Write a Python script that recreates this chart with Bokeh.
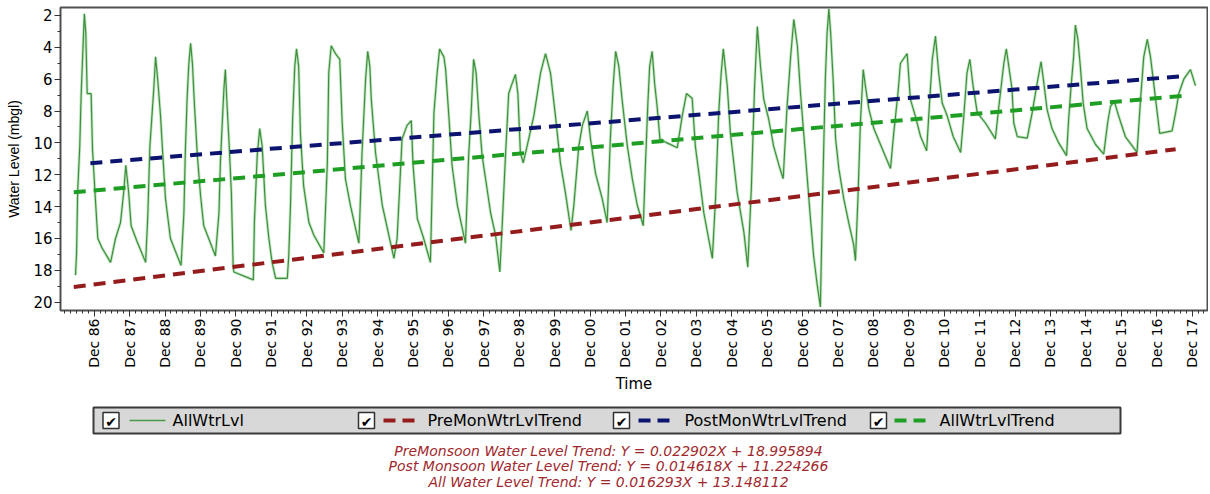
import math
from bokeh.plotting import figure
from bokeh.models import Range1d, FixedTicker, CustomJSTickFormatter
from bokeh.layouts import column
from bokeh.embed import file_html
from bokeh.resources import INLINE
from bokeh.core.properties import value

# ---------------- data ----------------
dates = [
    1986.39, 1986.42, 1986.45, 1986.51, 1986.55, 1986.61, 1986.64, 1986.68, 1986.72, 1986.83,
    1986.87, 1986.95, 1987.02, 1987.14, 1987.38, 1987.52, 1987.66, 1987.75, 1987.81, 1987.89,
    1987.96, 1988.13, 1988.37, 1988.43, 1988.49, 1988.56, 1988.60, 1988.65, 1988.71, 1988.79,
    1988.84, 1988.93, 1989.07, 1989.37, 1989.45, 1989.49, 1989.54, 1989.59, 1989.64, 1989.69,
    1989.75, 1989.83, 1989.92, 1990.01, 1990.15, 1990.34, 1990.44, 1990.48, 1990.53, 1990.58,
    1990.62, 1990.67, 1990.72, 1990.79, 1990.84, 1990.86, 1991.41, 1991.44, 1991.52, 1991.59,
    1991.66, 1991.75, 1991.85, 1991.94, 1992.04, 1992.37, 1992.41, 1992.46, 1992.52, 1992.58,
    1992.63, 1992.69, 1992.74, 1992.83, 1992.98, 1993.12, 1993.40, 1993.50, 1993.54, 1993.61,
    1993.73, 1993.85, 1993.92, 1994.01, 1994.15, 1994.39, 1994.48, 1994.58, 1994.64, 1994.70,
    1994.74, 1994.86, 1995.05, 1995.38, 1995.47, 1995.61, 1995.75, 1995.87, 1995.92, 1996.04,
    1996.22, 1996.41, 1996.51, 1996.60, 1996.67, 1996.79, 1996.84, 1996.93, 1997.02, 1997.17,
    1997.40, 1997.49, 1997.56, 1997.63, 1997.70, 1997.78, 1997.87, 1998.11, 1998.25, 1998.37,
    1998.44, 1998.53, 1998.62, 1998.72, 1998.81, 1998.88, 1998.95, 1999.03, 1999.14, 1999.33,
    1999.52, 1999.66, 1999.80, 1999.94, 2000.08, 2000.22, 2000.38, 2000.46, 2000.60, 2000.70,
    2000.84, 2000.93, 2001.07, 2001.26, 2001.40, 2001.49, 2001.57, 2001.64, 2001.73, 2001.82,
    2001.97, 2002.11, 2002.25, 2002.42, 2002.48, 2002.55, 2002.60, 2002.67, 2002.74, 2002.81,
    2002.89, 2003.09, 2003.38, 2003.52, 2003.64, 2003.80, 2003.89, 2003.99, 2004.13, 2004.37,
    2004.46, 2004.55, 2004.62, 2004.68, 2004.79, 2004.88, 2005.07, 2005.26, 2005.37, 2005.47,
    2005.56, 2005.64, 2005.73, 2005.82, 2005.96, 2006.10, 2006.25, 2006.37, 2006.48, 2006.58,
    2006.67, 2006.77, 2006.86, 2007.00, 2007.14, 2007.23, 2007.33, 2007.42, 2007.47, 2007.52,
    2007.56, 2007.61, 2007.66, 2007.71, 2007.78, 2007.85, 2007.94, 2008.08, 2008.22, 2008.36,
    2008.41, 2008.48, 2008.55, 2008.63, 2008.69, 2008.79, 2008.93, 2009.21, 2009.40, 2009.49,
    2009.61, 2009.68, 2009.87, 2009.96, 2010.10, 2010.25, 2010.42, 2010.48, 2010.58, 2010.67,
    2010.76, 2010.86, 2011.00, 2011.17, 2011.38, 2011.47, 2011.56, 2011.64, 2011.73, 2011.85,
    2012.08, 2012.36, 2012.46, 2012.60, 2012.67, 2012.74, 2012.83, 2012.88, 2012.98, 2013.26,
    2013.40, 2013.54, 2013.65, 2013.73, 2013.82, 2013.96, 2014.15, 2014.37, 2014.43, 2014.50,
    2014.57, 2014.62, 2014.69, 2014.76, 2014.84, 2014.95, 2015.19, 2015.42, 2015.53, 2015.61,
    2015.72, 2015.84, 2016.03, 2016.36, 2016.46, 2016.55, 2016.65, 2016.74, 2016.83, 2016.93,
    2017.00, 2017.35, 2017.45, 2017.54, 2017.68, 2017.87, 2018.01,
]
levels = [
    18.3, 16.9, 13.1, 10.2, 6.9, 3.5, 1.9, 3.1, 6.9, 6.9,
    10.4, 13.5, 16.0, 16.6, 17.5, 16.0, 15.0, 13.1, 11.4, 13.1,
    15.2, 16.2, 17.5, 14.6, 10.2, 7.9, 6.6, 4.6, 6.0, 8.3,
    10.2, 13.5, 16.0, 17.7, 14.4, 10.6, 7.25, 5.0, 3.75, 5.0,
    7.7, 10.8, 13.3, 15.2, 16.0, 17.1, 14.4, 11.25, 8.9, 6.6,
    5.4, 7.7, 9.75, 13.1, 17.7, 18.1, 18.6, 15.0, 10.8, 9.1,
    10.2, 13.9, 16.0, 17.5, 18.5, 18.5, 17.1, 13.9, 8.5, 5.2,
    4.1, 5.2, 9.4, 12.7, 15.0, 15.8, 16.9, 11.25, 5.6, 3.9,
    4.4, 4.75, 8.75, 12.25, 13.9, 16.3, 10.6, 6.0, 4.25, 5.2,
    7.25, 10.6, 13.9, 17.25, 16.0, 9.75, 8.9, 8.6, 11.4, 14.75,
    16.0, 17.5, 8.1, 5.6, 4.1, 4.6, 5.4, 8.3, 11.4, 13.9,
    16.3, 10.8, 8.1, 4.75, 5.6, 8.3, 10.8, 14.4, 15.8, 18.1,
    15.0, 10.8, 6.9, 6.25, 5.7, 6.9, 10.6, 11.25, 10.2, 8.3,
    5.6, 4.4, 5.6, 8.3, 11.25, 13.1, 15.5, 13.9, 10.2, 8.9,
    8.0, 9.75, 11.9, 13.5, 15.0, 9.75, 6.4, 4.25, 5.2, 7.25,
    10.2, 12.25, 13.9, 15.2, 11.4, 7.5, 5.2, 4.25, 6.25, 7.7,
    9.75, 10.0, 10.3, 8.3, 6.9, 7.2, 10.2, 11.9, 14.4, 17.25,
    13.5, 8.1, 5.6, 4.1, 6.4, 9.4, 13.1, 15.6, 17.8, 12.9,
    6.6, 2.7, 5.2, 7.25, 8.5, 10.2, 11.4, 12.25, 7.7, 4.6,
    2.25, 3.9, 6.9, 10.8, 14.75, 17.1, 18.9, 20.3, 14.75, 9.75,
    6.0, 3.1, 1.6, 3.1, 6.0, 9.75, 11.6, 13.5, 15.0, 16.4,
    17.4, 13.5, 8.75, 5.4, 6.4, 7.9, 9.1, 10.6, 11.6, 9.4,
    6.9, 5.0, 4.4, 7.25, 8.3, 9.6, 10.5, 8.3, 4.75, 3.3,
    5.6, 7.5, 8.3, 9.6, 10.6, 8.3, 5.6, 4.75, 6.4, 8.1,
    8.75, 9.75, 7.7, 5.0, 4.1, 5.2, 6.6, 8.75, 9.6, 9.7,
    8.1, 6.25, 4.9, 6.25, 7.9, 9.1, 10.0, 10.8, 8.5, 6.4,
    4.6, 2.6, 3.5, 5.2, 7.5, 9.1, 10.1, 10.7, 8.75, 7.7,
    7.4, 8.3, 9.6, 10.6, 7.25, 4.6, 3.5, 4.6, 6.25, 8.1,
    9.4, 9.25, 8.1, 6.9, 6.0, 5.4, 6.4,
]

pre_dates = [1986.34, 2017.45]
pre_levels = [19.04, 10.40]
post_dates = [1986.81, 2017.68]
post_levels = [11.27, 5.81]
all_dates = [1986.34, 2017.78]
all_levels = [13.10, 7.02]

tick_years = list(range(1986, 2018))
tick_labels = ["Dec 86", "Dec 87", "Dec 88", "Dec 89", "Dec 90", "Dec 91", "Dec 92", "Dec 93",
               "Dec 94", "Dec 95", "Dec 96", "Dec 97", "Dec 98", "Dec 99", "Dec 00", "Dec 01",
               "Dec 02", "Dec 03", "Dec 04", "Dec 05", "Dec 06", "Dec 07", "Dec 08", "Dec 09",
               "Dec 10", "Dec 11", "Dec 12", "Dec 13", "Dec 14", "Dec 15", "Dec 16", "Dec 17"]
y_ticks = [2, 4, 6, 8, 10, 12, 14, 16, 18, 20]

legend_labels = ["AllWtrLvl", "PreMonWtrLvlTrend", "PostMonWtrLvlTrend", "AllWtrLvlTrend"]
equations = [
    "PreMonsoon Water Level Trend: Y = 0.022902X + 18.995894",
    "Post Monsoon Water Level Trend: Y = 0.014618X + 11.224266",
    "All Water Level Trend: Y = 0.016293X + 13.148112",
]

# ---------------- styles ----------------
C_LINE = "#3f8d3f"
C_HALO = "#b4e2b4"
C_PRE = "#951c1c"
C_POST = "#0c1470"
C_ALL = "#1f9e24"
C_EQ = "#a0282d"
FONT = "DejaVu Sans"
W = 1208
BL, BR = 60, 1

# ---------------- main chart ----------------
p = figure(width=W, height=395, output_backend="svg", toolbar_location=None,
           x_range=Range1d(1985.966, 2018.35), y_range=Range1d(20.52, 1.5),
           min_border_left=BL, min_border_right=BR, min_border_top=7, min_border_bottom=85)
p.grid.visible = False
p.outline_line_color = "#505050"
p.outline_line_width = 2

p.line(dates, levels, line_color=C_HALO, line_width=3, line_alpha=0.8)
p.line(dates, levels, line_color=C_LINE, line_width=1.2)
p.line(pre_dates, pre_levels, line_color=C_PRE, line_width=4, line_dash="12 8")
p.line(post_dates, post_levels, line_color=C_POST, line_width=4, line_dash="12 8")
p.line(all_dates, all_levels, line_color=C_ALL, line_width=4, line_dash="12 8")

x_major = [y + 11 / 12 for y in tick_years]
x_minor = [y + 11 / 12 + k / 6 for y in range(1985, 2018) for k in range(0, 6)]
p.xaxis.ticker = FixedTicker(ticks=x_major, minor_ticks=x_minor)
p.xaxis.formatter = CustomJSTickFormatter(
    args=dict(labels=tick_labels, first=tick_years[0]),
    code="return labels[Math.round(tick - 11/12) - first];")
p.xaxis.major_label_orientation = math.pi / 2
p.xaxis.major_label_text_font = FONT
p.xaxis.major_label_text_font_size = "14px"
p.xaxis.major_label_standoff = 2
p.xaxis.axis_label = "Time"
p.xaxis.axis_label_text_font = FONT
p.xaxis.axis_label_text_font_style = "normal"
p.xaxis.axis_label_text_font_size = "15px"
p.xaxis.axis_label_standoff = 4

p.yaxis.ticker = FixedTicker(ticks=y_ticks, minor_ticks=list(range(1, 22)))
p.yaxis.major_label_text_font = FONT
p.yaxis.major_label_text_font_size = "15px"
p.yaxis.major_label_standoff = 2
p.yaxis.axis_label = "Water Level (mbgl)"
p.yaxis.axis_label_text_font = "Liberation Sans"
p.yaxis.axis_label_text_font_style = "normal"
p.yaxis.axis_label_text_font_size = "14px"
p.yaxis.axis_label_standoff = 8

for ax in (p.xaxis, p.yaxis):
    ax.axis_line_color = "#505050"
    ax.major_tick_in = 0
    ax.major_tick_out = 6
    ax.minor_tick_in = 0
    ax.minor_tick_out = 3
    ax.major_tick_line_color = "#333333"
    ax.minor_tick_line_color = "#333333"
    ax.major_label_text_color = "black"
    ax.axis_label_text_color = "black"

# ---------------- legend + equations panel (pixel coordinates) ----------------
p2 = figure(width=W, height=93, output_backend="svg", toolbar_location=None,
            x_range=Range1d(BL, W - BR), y_range=Range1d(488, 395),
            x_axis_location=None, y_axis_location=None,
            min_border_left=BL, min_border_right=BR, min_border_top=0, min_border_bottom=0)
p2.grid.visible = False
p2.outline_line_color = None

# legend frame
p2.quad(left=[93], right=[1120], top=[407], bottom=[433], fill_color="#d8d8d8",
        line_color="#3a3a3a", line_width=2)

box_x = [110.5, 366, 621, 878]
sample_x = [129, 383, 638, 894]
label_x = [172, 427, 684, 939]
row_y = 420

# check boxes
p2.quad(left=[x - 8 for x in box_x], right=[x + 8 for x in box_x],
        top=[row_y - 8] * 4, bottom=[row_y + 8] * 4,
        fill_color="white", line_color="#303030", line_width=1.5)
p2.text(box_x, [row_y + 1] * 4, text=["\u2714"] * 4, text_align="center",
        text_baseline="middle", text_font=value(FONT), text_font_size="14px",
        text_color="black")

# legend samples
p2.segment(x0=[sample_x[0]], x1=[sample_x[0] + 36], y0=[row_y], y1=[row_y],
           line_color="#4a9a4a", line_width=1.5)
for sx, col in zip(sample_x[1:], [C_PRE, C_POST, C_ALL]):
    p2.segment(x0=[sx], x1=[sx + 32], y0=[row_y], y1=[row_y], line_color=col,
               line_width=4, line_dash="12 7")

p2.text(label_x, [row_y] * 4, text=legend_labels, text_align="left", text_baseline="middle",
        text_font=value(FONT), text_font_size="16px", text_color="black")

# trend equations
p2.text([608, 608, 608], [450, 465.5, 481], text=equations, text_align="center",
        text_baseline="middle", text_font=value(FONT), text_font_style="italic",
        text_font_size="14px", text_color=C_EQ)

layout = column(p, p2, spacing=0)
open("out.html", "w").write(file_html(layout, INLINE))
